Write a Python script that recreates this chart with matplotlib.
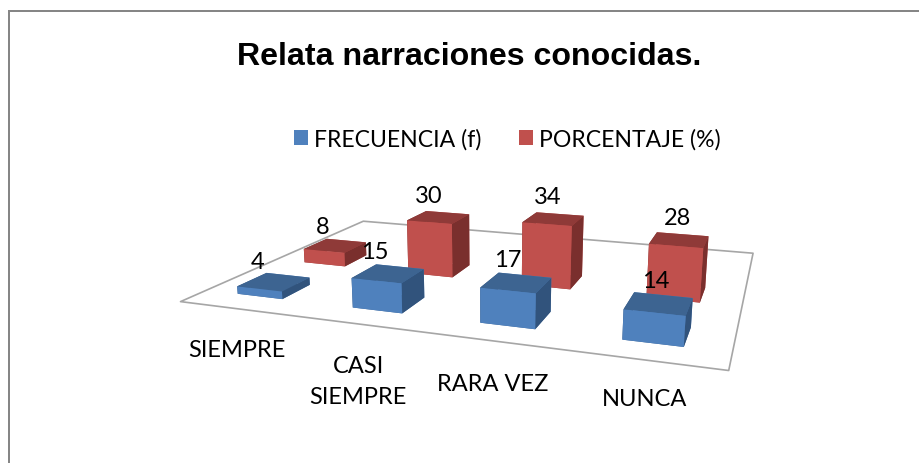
import matplotlib
matplotlib.use("Agg")
import matplotlib.pyplot as plt
import numpy as np
from matplotlib.lines import Line2D
from matplotlib.patches import Patch
from mpl_toolkits.mplot3d.art3d import Poly3DCollection

W, H = 919, 464
categories = ["SIEMPRE", "CASI\nSIEMPRE", "RARA VEZ", "NUNCA"]
frecuencia = [4, 15, 17, 14]
porcentaje = [8, 30, 34, 28]

blue = "#4F81BD"
red = "#C0504D"
label_font = "Lato"

# where the category labels sit, in pixels (center, top)
cat_label_x = [237, 358, 493, 645]
cat_label_top = [340, 356, 374, 389]

fig = plt.figure(figsize=(W / 100, H / 100), dpi=100)
# camera fitted against the picture
scale = 1.2617
ax = fig.add_axes([193.91 / W, -77.14 / H, H * scale / W, H * scale / H], projection="3d", computed_zorder=False)
ax.view_init(elev=13.988, azim=-70.778, roll=-0.057)
ax.set_proj_type("persp", focal_length=0.2676)
ax.set_box_aspect((4, 2.917, 0.603))

n = len(categories)
depth = 0.27
blue_y = 0.204
red_y = 0.867
xs = np.arange(n) + 0.3

floor = Poly3DCollection([[(0, 0, 0), (n, 0, 0), (n, 2, 0), (0, 2, 0)]],
                         facecolors="white", edgecolors="#A6A6A6", linewidths=1.2, zorder=1)
ax.add_collection3d(floor)
floor.set_clip_on(False)
bars_red = ax.bar3d(xs, np.full(n, red_y), np.zeros(n), 0.4, depth, porcentaje, shade=False, zorder=2,
                    color=["#A04240", "#8F3A38", red, red, "#7A2F2D", "#7A2F2D"] * n)
bars_blue = ax.bar3d(xs, np.full(n, blue_y), np.zeros(n), 0.4, depth, frecuencia, shade=False, zorder=3,
                     color=["#3F6797", "#3D6491", blue, blue, "#31537C", "#31537C"] * n)
bars_red.set_clip_on(False)
bars_blue.set_clip_on(False)

ax.set_xlim(0, n, view_margin=0)
ax.set_ylim(0, 2, view_margin=0)
ax.set_zlim(0, 40, view_margin=0)
ax.set_xticks([])
ax.set_yticks([])
ax.set_zticks([])
ax.set_axis_off()
ax.patch.set_alpha(0)

for i in range(n):
    ax.text(xs[i] + 0.2, red_y, porcentaje[i] + 14.5, str(porcentaje[i]), ha="center", va="center",
            fontsize=17, family=label_font, zorder=5)
    ax.text(xs[i] + 0.2, blue_y, frecuencia[i] + 14.5, str(frecuencia[i]), ha="center", va="center",
            fontsize=17, family=label_font, zorder=6)
    fig.text(cat_label_x[i] / W, 1 - cat_label_top[i] / H, categories[i], ha="center", va="top", linespacing=1.6,
             fontsize=17, family=label_font)

fig.text(469.5 / W, 1 - 57 / H, "Relata narraciones conocidas.", ha="center", va="center",
         fontsize=23.1, fontweight="bold", family="Liberation Sans")

handles = [Patch(facecolor=blue, label="FRECUENCIA (f)"), Patch(facecolor=red, label="PORCENTAJE (%)")]
fig.legend(handles=handles, ncol=2, loc="center", bbox_to_anchor=(507.5 / W, 1 - 140 / H), frameon=False,
           prop={"family": label_font, "size": 16.6}, handlelength=0.61, handleheight=0.61,
           handletextpad=0.27, columnspacing=1.62, borderpad=0, borderaxespad=0)

frame_x = 8.7 / W
frame_y = 1 - 12 / H
fig.add_artist(Line2D([frame_x, frame_x], [0, frame_y], color="#868686", lw=1.44, solid_capstyle="projecting"))
fig.add_artist(Line2D([frame_x, 1], [frame_y, frame_y], color="#868686", lw=1.44, solid_capstyle="projecting"))

fig.savefig("out.png", dpi=100)
